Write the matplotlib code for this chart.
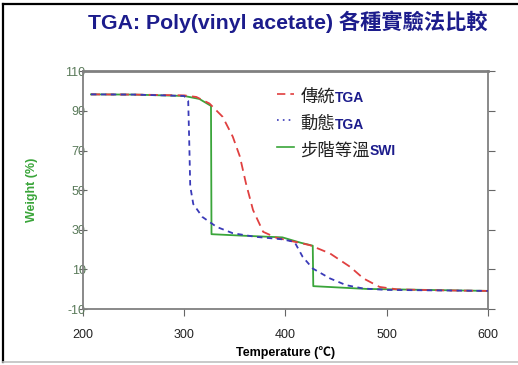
import matplotlib
matplotlib.use("Agg")
import matplotlib.pyplot as plt
from matplotlib.lines import Line2D

plt.rcParams["font.family"] = ["Liberation Sans", "Noto Sans CJK TC", "DejaVu Sans"]

# traditional TGA
temp_trad = [208, 250, 300, 312, 325, 338, 348, 355, 361, 368, 378, 391, 400,
             424, 444, 464, 477, 493, 510, 550, 600]
wt_trad = [98.3, 98.2, 97.8, 97, 93.7, 87, 77, 67, 53.5, 40, 29, 26, 25,
           22.3, 18.1, 11.3, 5.5, 1.2, 0, -0.5, -0.8]

# dynamic TGA
temp_dyn = [208, 250, 300, 304, 305, 306, 309, 318, 332, 348, 370, 397, 409,
            417, 427, 444, 460, 477, 500, 600]
wt_dyn = [98.3, 98.2, 97.5, 95, 75, 52, 43, 36.5, 31.5, 28.3, 26.5, 25.2, 23.9,
          16.4, 10.5, 5.5, 2.1, 0.4, -0.3, -0.8]

# stepwise isothermal
temp_step = [208, 250, 300, 315, 326.5, 327, 360, 397, 415, 427, 427.5, 450, 480, 600]
wt_step = [98.3, 98.2, 97.5, 96, 92.5, 27.8, 27, 26.2, 23.5, 22, 1.6, 1.0, 0.2, -0.8]

x_ticks = [200, 300, 400, 500, 600]
y_ticks = [110, 90, 70, 50, 30, 10, -10]

RED = "#e04040"
BLUE = "#3a3ab8"
GREEN = "#3aa53a"
NAVY = "#1c1c8c"

fig = plt.figure(figsize=(5.18, 3.65), dpi=100)
ax = fig.add_axes([0.160, 0.153, 0.782, 0.652])

ax.plot(temp_trad, wt_trad, color=RED, lw=1.3, dashes=(5, 3), zorder=3)
ax.plot(temp_dyn, wt_dyn, color=BLUE, lw=1.3, dashes=(3, 2.5), zorder=4)
ax.plot(temp_step, wt_step, color=GREEN, lw=1.3, zorder=2)

ax.set_xlim(200, 600)
ax.set_ylim(-10, 110)
ax.set_xticks(x_ticks)
ax.set_yticks(y_ticks)
ax.set_yticklabels([str(v) for v in y_ticks])

for s in ax.spines.values():
    s.set_color("#808080")
    s.set_linewidth(1.3)
ax.spines["top"].set_linewidth(2.0)

ax.tick_params(axis="x", direction="out", length=5, color="#666666",
               labelsize=9, pad=9, labelcolor="#222222")
ax.tick_params(axis="y", direction="inout", length=6, color="#666666",
               labelsize=9, pad=-5, labelcolor="#5a7a5a")
ax.tick_params(axis="y", which="both", right=True, labelright=False)
for t in ax.yaxis.get_ticklines()[1::2]:
    t.set_color(NAVY)
    t.set_marker(1)  # outward tick on the right spine
    t.set_markersize(5)

ax.set_xlabel("Temperature (℃)", fontsize=9, fontweight="bold", labelpad=4)
ax.set_ylabel("Weight (%)", fontsize=9, fontweight="bold", color=GREEN, labelpad=20)

fig.text(0.556, 0.94, "TGA: Poly(vinyl acetate) 各種實驗法比較", ha="center",
         va="center", fontsize=15.3, fontweight="bold", color=NAVY)

# legend drawn by hand: CJK text in black, method tag in bold blue
legend_rows = [("傳統", "TGA", RED, (5, 3)),
               ("動態", "TGA", BLUE, (1, 2.5)),
               ("步階等溫", "SWI", GREEN, None)]
y0 = 0.905
for i, (cjk, tag, col, dash) in enumerate(legend_rows):
    yy = y0 - i * 0.112
    ln = Line2D([0.478, 0.522], [yy, yy], transform=ax.transAxes, color=col, lw=1.2)
    if dash:
        ln.set_dashes(dash)
    ax.add_line(ln)
    t = ax.text(0.537, yy - 0.035, cjk, transform=ax.transAxes, fontsize=12.5,
                va="baseline", ha="left", color="#222222")
    fig.canvas.draw()
    bb = t.get_window_extent().transformed(ax.transAxes.inverted())
    ax.text(bb.x1, yy - 0.035, tag, transform=ax.transAxes, fontsize=10,
            fontweight="bold", va="baseline", ha="left", color=NAVY)

# outer frame: black left and top, grey bottom
fig.add_artist(Line2D([0.006, 0.006], [0.008, 0.99], transform=fig.transFigure,
                      color="black", lw=1.6))
fig.add_artist(Line2D([0.006, 1.0], [0.99, 0.99], transform=fig.transFigure,
                      color="black", lw=1.6))
fig.add_artist(Line2D([0.006, 1.0], [0.008, 0.008], transform=fig.transFigure,
                      color="#c0c0c0", lw=1.2))

fig.savefig("out.png", dpi=100)
